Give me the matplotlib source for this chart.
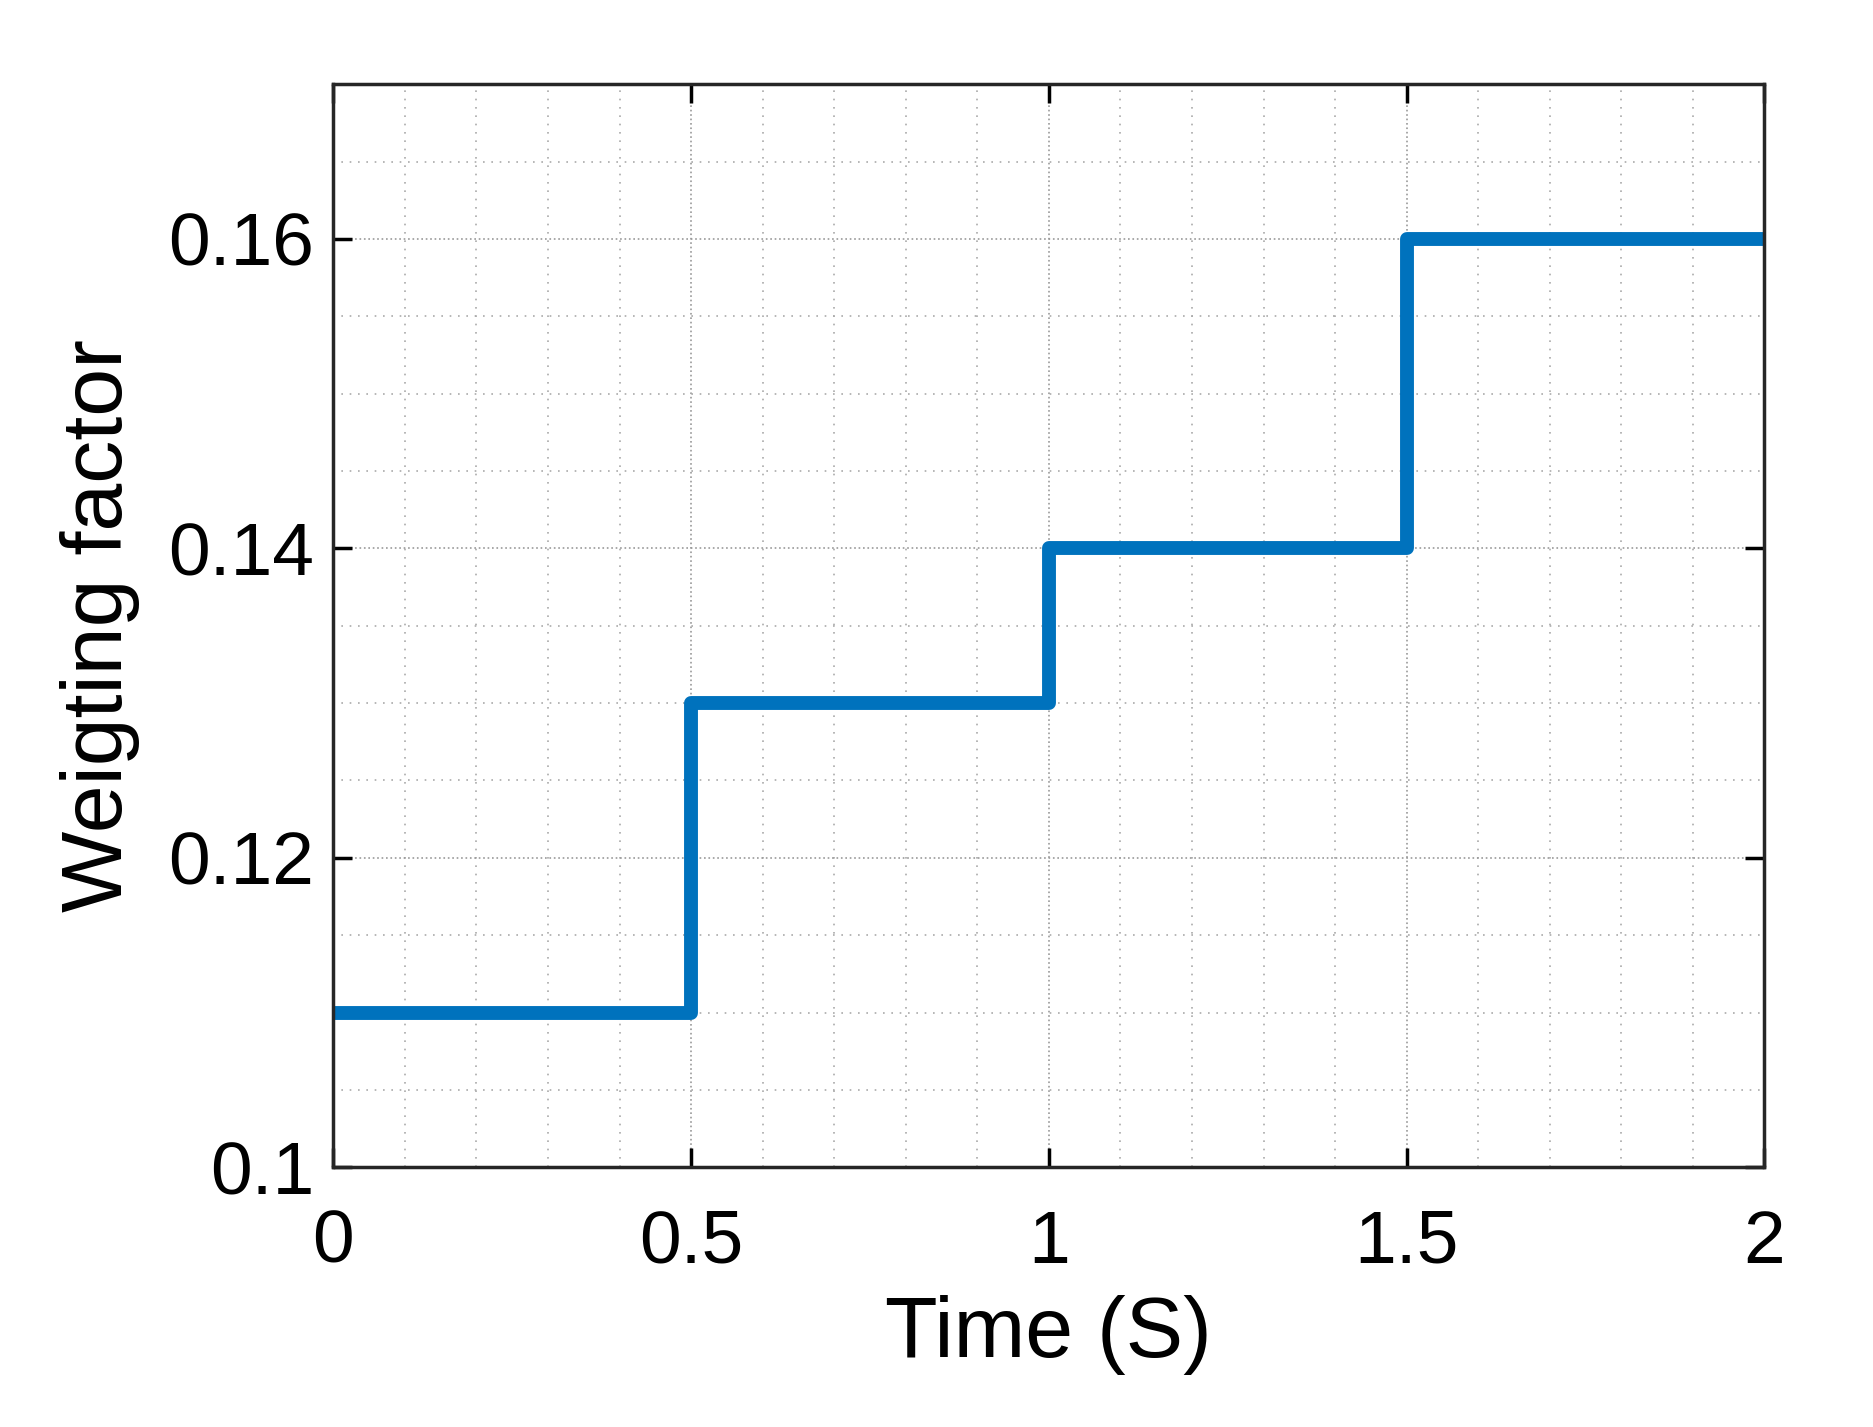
import matplotlib
matplotlib.use("Agg")
import matplotlib.pyplot as plt
from matplotlib.ticker import MultipleLocator

time_s = [0, 0.5, 1.0, 1.5, 2.0]
weight = [0.11, 0.13, 0.14, 0.16, 0.16]
xticks = [0, 0.5, 1, 1.5, 2]
xticklabels = ["0", "0.5", "1", "1.5", "2"]
yticks = [0.1, 0.12, 0.14, 0.16]
yticklabels = ["0.1", "0.12", "0.14", "0.16"]

plt.rcParams['font.family'] = ['Liberation Sans', 'DejaVu Sans']
fig = plt.figure(figsize=(18.73, 14.27), dpi=100)
ax = fig.add_axes([0.178, 0.182, 0.764, 0.759])
ax.step(time_s, weight, where='post', color='#0072BD', lw=10)
ax.set_xlim(0, 2)
ax.set_ylim(0.1, 0.17)
ax.set_xticks(xticks)
ax.set_xticklabels(xticklabels)
ax.set_yticks(yticks)
ax.set_yticklabels(yticklabels)
ax.xaxis.set_minor_locator(MultipleLocator(0.1))
ax.yaxis.set_minor_locator(MultipleLocator(0.005))
ax.grid(which='major', color='#999999', ls=':', lw=1.2)
ax.grid(which='minor', color='#aaaaaa', ls=(0, (1, 4)), lw=1.2)
ax.tick_params(which='major', labelsize=54, direction='in', length=14, width=2.5,
               top=True, right=True, pad=14)
ax.tick_params(axis='x', which='major', pad=30)
ax.tick_params(which='minor', length=0)
for s in ax.spines.values():
    s.set_linewidth(2.5)
    s.set_color('#262626')
ax.set_xlabel('Time (S)', fontsize=62, labelpad=12)
ax.set_ylabel('Weigting factor', fontsize=62, labelpad=20)
fig.savefig('out.png', dpi=100)
